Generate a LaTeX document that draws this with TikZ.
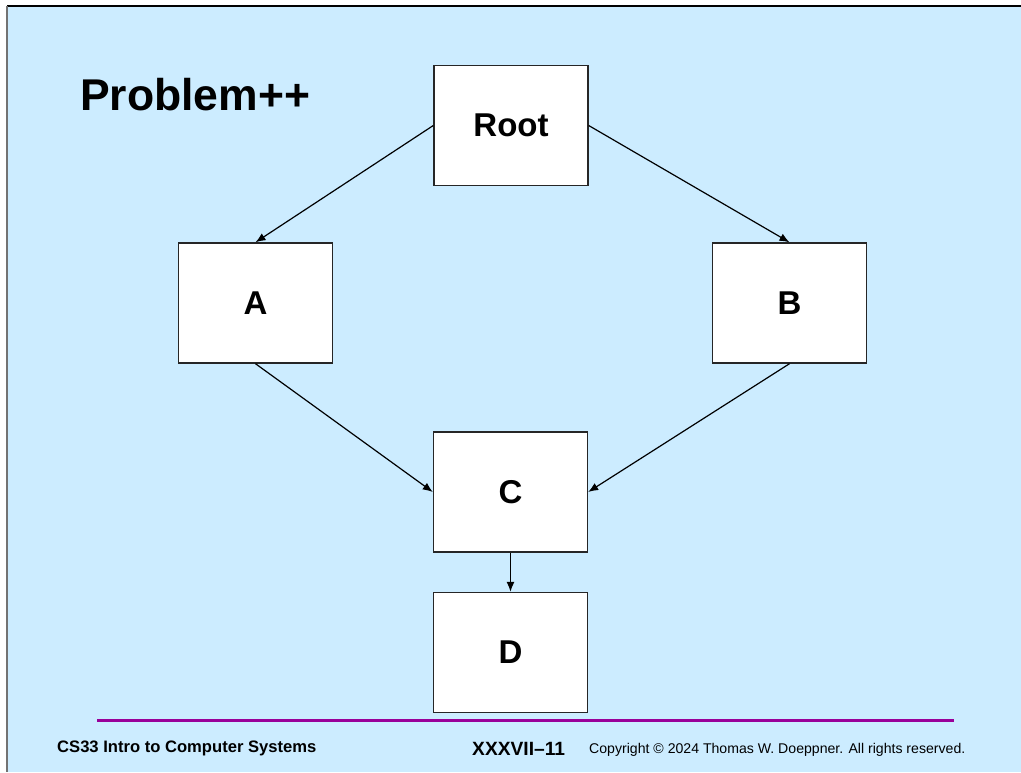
\documentclass[tikz,border=0pt]{standalone}
\usepackage{fontspec}
\setmainfont{Liberation Sans}
\usetikzlibrary{arrows.meta}
\definecolor{slidebg}{HTML}{CCECFF}
\definecolor{rulepurple}{HTML}{990099}
\tikzset{
  box/.style={draw=black!85, fill=white, line width=1.4pt, minimum width=154pt, minimum height=120pt, inner sep=0pt,
    font=\fontsize{33}{36}\selectfont\bfseries},
  link/.style={draw=black, line width=1.2pt, -{Latex[length=10pt,width=8pt]}},
}
\begin{document}
\begin{tikzpicture}[x=1pt,y=-1pt]
\useasboundingbox (0,0) rectangle (1021,772);
\fill[white] (0,0) rectangle (1021,772);
\fill[slidebg] (7,6) rectangle (1021,772);
\draw[black, line width=1.8pt] (7,6) -- (1021,6);
\draw[black!55, line width=1.2pt] (7,6) -- (7,772);
% title
\node[anchor=base west, inner sep=0pt, font=\fontsize{44.5}{50}\selectfont\bfseries] (title) at (80,110) {Problem++};
% boxes
\node[box] (root) at (511,125.5) {Root};
\node[box] (a) at (255.5,303) {A};
\node[box] (b) at (789.5,303) {B};
\node[box] (c) at (510.5,492) {C};
\node[box] (d) at (510.5,652.5) {D};
% connectors
\draw[link] (root.west) -- (a.north);
\draw[link] (root.east) -- (b.north);
\draw[link] (a.south) -- (c.west);
\draw[link] (b.south) -- (c.east);
\draw[link] (c.south) -- (d.north);
% footer
\coordinate (rl) at (97,720);
\coordinate (rr) at (954,720);
\draw[rulepurple, line width=3pt] (rl) -- (rr);
\node[anchor=base west, inner sep=0pt, font=\fontsize{16.6}{18}\selectfont\bfseries] (course) at (57,752.5) {CS33 Intro to Computer Systems};
\node[anchor=base west, inner sep=0pt, font=\fontsize{19.2}{21}\selectfont\bfseries] (page) at (472,755) {XXXVII–11};
\node[anchor=base west, inner sep=0pt, font=\fontsize{14.1}{16}\selectfont] (copy) at (589,753) {Copyright © 2024 Thomas W. Doeppner. All rights reserved.};
\end{tikzpicture}
\end{document}
